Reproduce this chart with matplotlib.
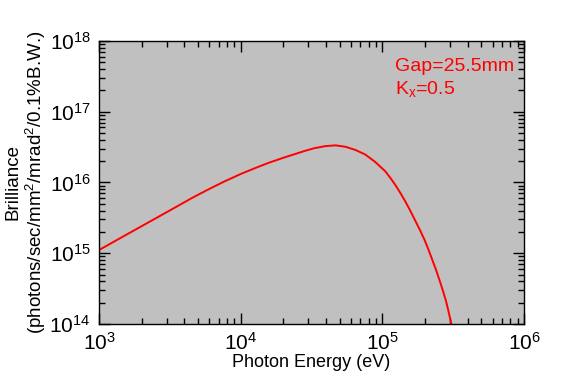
import numpy as np
import matplotlib
matplotlib.use("Agg")
import matplotlib.pyplot as plt
from matplotlib.ticker import LogLocator, NullFormatter

plt.rcParams['font.family'] = ['Liberation Sans', 'DejaVu Sans']
plt.rcParams['mathtext.fontset'] = 'custom'
plt.rcParams['mathtext.rm'] = 'Liberation Sans'
plt.rcParams['mathtext.it'] = 'Liberation Sans'

# values (log10 of energy in eV, log10 of brilliance)
log_energy = [3.00, 3.16, 3.33, 3.50, 3.66, 3.77, 3.88, 4.00, 4.11, 4.20,
              4.31, 4.38, 4.45, 4.52, 4.60, 4.67, 4.74, 4.81, 4.88, 4.95,
              5.02, 5.055, 5.09, 5.125, 5.16, 5.195, 5.23, 5.265, 5.30, 5.325,
              5.35, 5.38, 5.41, 5.43, 5.45, 5.467, 5.487]
log_brill = [15.045, 15.225, 15.415, 15.605, 15.785, 15.90, 16.01, 16.12, 16.21, 16.28,
             16.355, 16.40, 16.445, 16.485, 16.515, 16.525, 16.505, 16.46, 16.395, 16.29,
             16.16, 16.07, 15.97, 15.86, 15.74, 15.61, 15.47, 15.33, 15.18, 15.055,
             14.92, 14.76, 14.58, 14.455, 14.32, 14.18, 14.00]

energy = 10 ** np.array(log_energy)
brill = 10 ** np.array(log_brill)

fig = plt.figure(figsize=(5.66, 3.78), dpi=100)
ax = fig.add_axes([0.1749, 0.1429, 0.7509, 0.7486])
ax.set_facecolor('#c0c0c0')

ax.plot(energy, brill, color='red', lw=1.4)

ax.set_xscale('log')
ax.set_yscale('log')
ax.set_xlim(1e3, 1e6)
ax.set_ylim(1e14, 1e18)

ax.tick_params(which='both', direction='in', top=True, right=True, width=1, labelsize=15)
ax.tick_params(which='major', length=8, pad=6)
ax.tick_params(which='minor', length=4.5)
ax.xaxis.set_minor_locator(LogLocator(base=10, subs=np.arange(2, 10)))
ax.yaxis.set_minor_locator(LogLocator(base=10, subs=np.arange(2, 10)))
ax.xaxis.set_minor_formatter(NullFormatter())
ax.yaxis.set_minor_formatter(NullFormatter())
for s in ax.spines.values():
    s.set_linewidth(1)

ax.set_xlabel('Photon Energy (eV)', fontsize=13, labelpad=0)
ax.set_ylabel('Brilliance\n(photons/sec/mm$^2$/mrad$^2$/0.1%B.W.)', fontsize=13.5,
              linespacing=1.15)
ax.yaxis.set_label_coords(-0.12, 0.5)

ax.text(0.697, 0.91, 'Gap=25.5mm', color='red', fontsize=14, transform=ax.transAxes, va='center')
ax.text(0.697, 0.83, 'K$_{\\mathregular{x}}$=0.5', color='red', fontsize=14,
        transform=ax.transAxes, va='center')

fig.savefig('out.png', dpi=100)
